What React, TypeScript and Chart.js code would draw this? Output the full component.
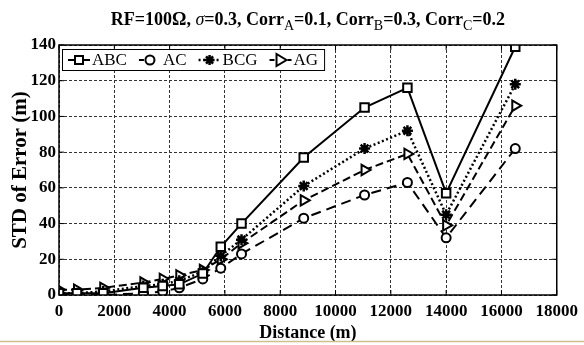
import React, { useEffect, useRef } from "react";
import { Chart, registerables } from "chart.js";

Chart.register(...registerables);

// ---- data ----
const distances = [0, 650, 1600, 3050, 3750, 4350, 5200, 5850, 6600, 8850, 11050, 12600, 14000, 16500];
const seriesLabels = ["ABC", "AC", "BCG", "AG"];
const abcValues = [1, 1, 1, 4, 5, 6, 12, 27, 40, 77, 105, 116, 57, 139];
const acValues = [0, 0, 0, 1, 2, 4, 9, 15, 23, 43, 56, 63, 32, 82];
const bcgValues = [1, 1, 2, 5, 6, 8, 13, 22, 31, 61, 82, 92, 45, 118];
const agValues = [3, 3, 4, 7, 9, 11, 14, 20, 29, 53, 70, 79, 39, 106];
const xMin = 0, xMax = 18000, xStep = 2000;
const yMin = 0, yMax = 140, yStep = 20;
const xTitle = "Distance (m)";
const yTitle = "STD of Error (m)";
// title pieces: [text, kind]  kind: b = bold, i = italic symbol, s = subscript
const titleParts: [string, string][] = [
  ["RF=100\u03A9, ", "b"], ["\u03C3", "i"], ["=0.3, Corr", "b"], ["A", "s"],
  ["=0.1, Corr", "b"], ["B", "s"], ["=0.3, Corr", "b"], ["C", "s"], ["=0.2", "b"],
];

const FONT = "'Liberation Serif', 'Times New Roman', serif";

const styles = [
  { marker: "rect", dash: [] as number[], width: 2 },
  { marker: "circle", dash: [10, 6], width: 2 },
  { marker: "star", dash: [2, 2.5], width: 2.5 },
  { marker: "triangle", dash: [8, 4], width: 2 },
];

function drawMarker(ctx: CanvasRenderingContext2D, kind: string, x: number, y: number) {
  ctx.save();
  ctx.setLineDash([]);
  ctx.strokeStyle = "#000";
  ctx.fillStyle = "#fff";
  ctx.lineWidth = 2;
  ctx.beginPath();
  if (kind === "rect") {
    ctx.rect(x - 4, y - 4, 8, 8);
    ctx.fill(); ctx.stroke();
  } else if (kind === "circle") {
    ctx.arc(x, y, 4.5, 0, Math.PI * 2);
    ctx.fill(); ctx.stroke();
  } else if (kind === "star") {
    ctx.lineWidth = 2.5;
    for (let k = 0; k < 4; k++) {
      const a = (k * Math.PI) / 4;
      ctx.moveTo(x - 5 * Math.cos(a), y - 5 * Math.sin(a));
      ctx.lineTo(x + 5 * Math.cos(a), y + 5 * Math.sin(a));
    }
    ctx.stroke();
  } else {
    ctx.moveTo(x + 6, y);
    ctx.lineTo(x - 4, y - 6);
    ctx.lineTo(x - 4, y + 6);
    ctx.closePath();
    ctx.fill(); ctx.stroke();
  }
  ctx.restore();
}

const decorPlugin = {
  id: "decor",
  afterDraw(chart: any) {
    const { ctx, chartArea: a } = chart;
    const xs = chart.scales.x, ys = chart.scales.y;
    ctx.save();
    // inward tick marks
    ctx.strokeStyle = "#000";
    ctx.lineWidth = 1;
    ctx.setLineDash([]);
    ctx.beginPath();
    xs.ticks.forEach((t: any) => {
      const px = xs.getPixelForValue(t.value);
      ctx.moveTo(px, a.bottom); ctx.lineTo(px, a.bottom - 5);
      ctx.moveTo(px, a.top); ctx.lineTo(px, a.top + 5);
    });
    ys.ticks.forEach((t: any) => {
      const py = ys.getPixelForValue(t.value);
      ctx.moveTo(a.left, py); ctx.lineTo(a.left + 5, py);
      ctx.moveTo(a.right, py); ctx.lineTo(a.right - 5, py);
    });
    ctx.stroke();
    // frame
    ctx.lineWidth = 1.5;
    ctx.strokeRect(a.left, a.top, a.right - a.left, a.bottom - a.top);

    // legend
    const lx = a.left + 3, ly = a.top + 4, lh = 21;
    ctx.font = `17px ${FONT}`;
    const widths = seriesLabels.map((l) => ctx.measureText(l).width);
    const lineLen = 22, gapT = 2, gapItem = 12;
    let total = 6;
    widths.forEach((w, i) => { total += lineLen + gapT + w + (i < widths.length - 1 ? gapItem : 6); });
    ctx.fillStyle = "#fff";
    ctx.fillRect(lx, ly, total, lh);
    ctx.strokeStyle = "#000";
    ctx.lineWidth = 1;
    ctx.strokeRect(lx + 0.5, ly + 0.5, total, lh);
    let cx = lx + 6;
    const cy = ly + lh / 2 + 0.5;
    seriesLabels.forEach((lab, i) => {
      const st = styles[i];
      ctx.save();
      ctx.strokeStyle = "#000";
      ctx.lineWidth = st.width;
      ctx.setLineDash(st.dash.length ? [Math.min(st.dash[0], 5), st.dash[1]] : []);
      ctx.beginPath();
      ctx.moveTo(cx, cy); ctx.lineTo(cx + lineLen, cy);
      ctx.stroke();
      ctx.restore();
      drawMarker(ctx, st.marker, cx + lineLen / 2, cy);
      ctx.fillStyle = "#000";
      ctx.font = `17px ${FONT}`;
      ctx.textBaseline = "middle";
      ctx.textAlign = "left";
      ctx.fillText(lab, cx + lineLen + gapT, cy + 1);
      cx += lineLen + gapT + widths[i] + gapItem;
    });

    // title with subscripts
    const fontFor = (k: string) =>
      k === "b" ? `bold 18px ${FONT}` : k === "i" ? `italic 18px ${FONT}` : `14px ${FONT}`;
    let tw = 0;
    titleParts.forEach(([t, k]) => { ctx.font = fontFor(k); tw += ctx.measureText(t).width; });
    let tx = (a.left + a.right) / 2 - tw / 2;
    const baseY = 25;
    ctx.textBaseline = "alphabetic";
    ctx.fillStyle = "#000";
    titleParts.forEach(([t, k]) => {
      ctx.font = fontFor(k);
      ctx.fillText(t, tx, k === "s" ? baseY + 5 : baseY);
      tx += ctx.measureText(t).width;
    });

    // thin bottom rule
    ctx.strokeStyle = "#cfc08a";
    ctx.lineWidth = 1.5;
    ctx.beginPath();
    ctx.moveTo(0, 341.5); ctx.lineTo(584, 341.5);
    ctx.stroke();
    ctx.restore();
  },
};

export default function App() {
  const ref = useRef<HTMLCanvasElement>(null);
  useEffect(() => {
    if (!ref.current) return;
    const allValues = [abcValues, acValues, bcgValues, agValues];
    const datasets = allValues.map((vals, i) => ({
      label: seriesLabels[i],
      data: distances.map((d, j) => ({ x: d, y: vals[j] })),
      borderColor: "#000",
      backgroundColor: "#fff",
      borderWidth: styles[i].width,
      borderDash: styles[i].dash,
      pointStyle: styles[i].marker as any,
      pointRadius: styles[i].marker === "rect" ? 6 : styles[i].marker === "circle" ? 4.5 : styles[i].marker === "star" ? 5.5 : 6,
      pointRotation: styles[i].marker === "triangle" ? 90 : 0,
      pointBorderWidth: styles[i].marker === "star" ? 2.5 : 2,
      pointBorderColor: "#000",
      pointBackgroundColor: "#fff",
      tension: 0,
      fill: false,
    }));
    const chart = new Chart(ref.current, {
      type: "line",
      data: { datasets },
      plugins: [decorPlugin],
      options: {
        animation: false,
        responsive: false,
        layout: { padding: { top: 45, right: 22, left: 0, bottom: 0 } },
        plugins: { legend: { display: false }, title: { display: false }, tooltip: { enabled: false } },
        scales: {
          x: {
            type: "linear",
            min: xMin, max: xMax,
            ticks: { stepSize: xStep, color: "#000", font: { family: FONT, size: 17, weight: "bold" }, padding: 6, maxRotation: 0, callback: (v: any) => String(v) },
            grid: { color: "#333", lineWidth: 1, drawTicks: false },
            border: { display: false, dash: [3, 2] },
            title: { display: true, text: xTitle, color: "#000", font: { family: FONT, size: 18, weight: "bold" }, padding: { top: 0, bottom: 1 } },
            afterFit: (s: any) => { s.height = 50; },
          },
          y: {
            type: "linear",
            min: yMin, max: yMax,
            ticks: { stepSize: yStep, color: "#000", font: { family: FONT, size: 17, weight: "bold" }, padding: 3, callback: (v: any) => String(v) },
            grid: { color: "#333", lineWidth: 1, drawTicks: false },
            border: { display: false, dash: [3, 2] },
            title: { display: true, text: yTitle, color: "#000", font: { family: FONT, size: 21, weight: "bold" }, padding: { top: 8, bottom: 0 } },
            afterFit: (s: any) => { s.width = 59; },
          },
        },
      } as any,
    });
    return () => chart.destroy();
  }, []);
  return (
    <div style={{ position: "fixed", left: 0, top: 0, width: 584, height: 345, background: "#fff" }}>
      <canvas ref={ref} width={584} height={345} style={{ display: "block" }} />
    </div>
  );
}
